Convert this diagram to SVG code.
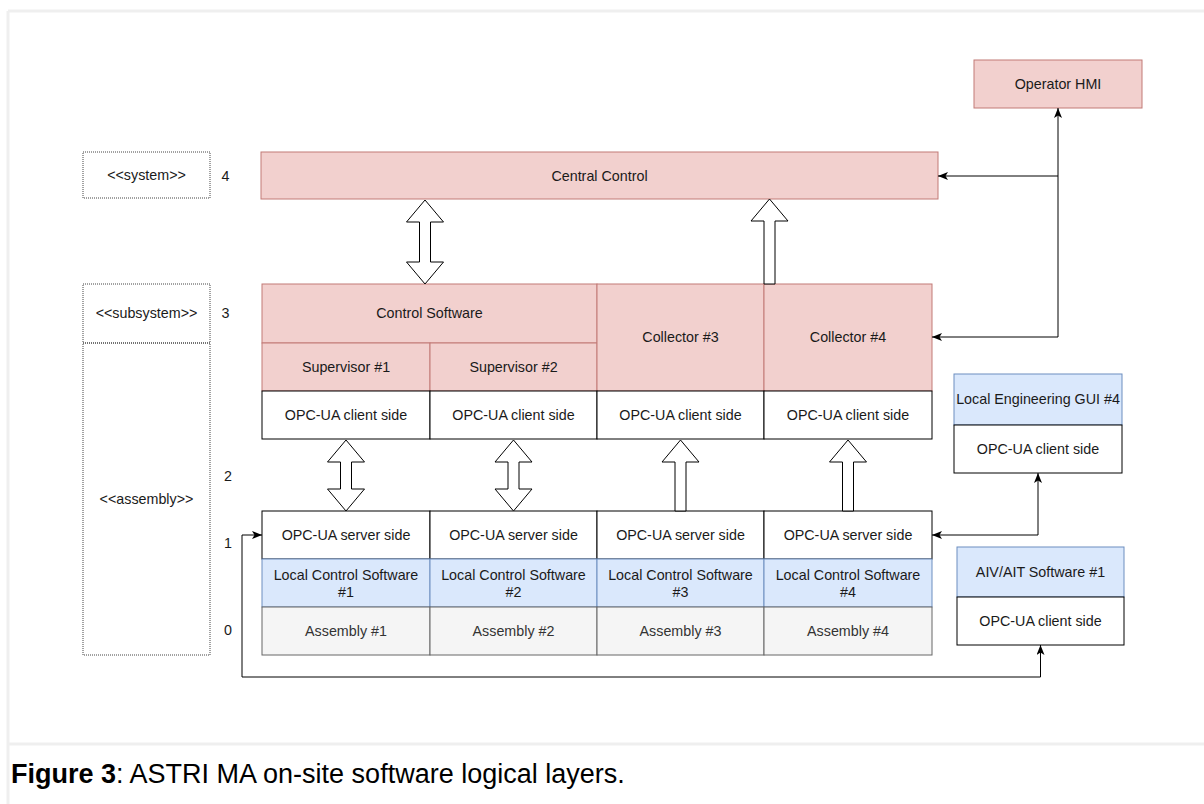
<svg xmlns="http://www.w3.org/2000/svg" width="1204" height="804" viewBox="0 0 1204 804">
<style>
  text { font-family: "Liberation Sans", Arial, sans-serif; font-size: 14.3px; fill: #1a1a1a; text-anchor: middle; dominant-baseline: central; }
  .pink { fill: #f2d0ce; stroke: #c27a76; stroke-width: 1; }
  .blue { fill: #dae8fc; stroke: #6c8ebf; stroke-width: 1; }
  .gray { fill: #f5f5f5; stroke: #666666; stroke-width: 1; }
  .white { fill: #ffffff; stroke: #000000; stroke-width: 1; }
  .dotted { fill: none; stroke: #444444; stroke-width: 1; stroke-dasharray: 1 1; }
  .frame { stroke: #efefef; stroke-width: 3; fill: none; }
  .conn { fill: none; stroke: #000000; stroke-width: 1; }
  .block { fill: #ffffff; stroke: #000000; stroke-width: 1; }
  .gtext { fill: #333333; }
  .num { text-anchor: middle; }
  .caption { font-size: 27px; text-anchor: start; dominant-baseline: alphabetic; fill: #000000; }
</style>
<defs>
  <marker id="arr" viewBox="0 0 10 8" markerWidth="10" markerHeight="8" refX="10" refY="4" orient="auto-start-reverse" markerUnits="userSpaceOnUse">
    <path d="M0,0 L10,4 L0,8 L2.5,4 z" fill="#000000"/>
  </marker>
</defs>
<rect width="1204" height="804" fill="#ffffff"/>
<g id="frame">
  <path class="frame" d="M8,11 L1204,11 M8,11 L8,804 M8,744 L1204,744"/>
</g>

<g id="layer-labels">
  <g id="system-label">
    <rect class="dotted" x="83" y="152" width="127" height="46"/>
    <text x="146.5" y="175">&lt;&lt;system&gt;&gt;</text>
  </g>
  <g id="subsystem-label">
    <rect class="dotted" x="83" y="284" width="127" height="59"/>
    <text x="146.5" y="313">&lt;&lt;subsystem&gt;&gt;</text>
  </g>
  <g id="assembly-label">
    <rect class="dotted" x="83" y="343" width="127" height="312"/>
    <text x="146.5" y="499">&lt;&lt;assembly&gt;&gt;</text>
  </g>
  <text class="num" x="225.5" y="176">4</text>
  <text class="num" x="225.5" y="313">3</text>
  <text class="num" x="228" y="476">2</text>
  <text class="num" x="228" y="543">1</text>
  <text class="num" x="228" y="630">0</text>
</g>

<g id="operator-hmi">
  <rect class="pink" x="974" y="60" width="168" height="48"/>
  <text x="1058" y="84">Operator HMI</text>
</g>
<g id="central-control">
  <rect class="pink" x="261" y="152" width="677" height="47"/>
  <text x="599.5" y="175.5">Central Control</text>
</g>

<g id="control-software">
  <rect class="pink" x="262" y="284" width="335" height="59"/>
  <text x="429.5" y="313">Control Software</text>
</g>
<g id="supervisor-1">
  <rect class="pink" x="262" y="343" width="168" height="48"/>
  <text x="346" y="367">Supervisor #1</text>
</g>
<g id="supervisor-2">
  <rect class="pink" x="430" y="343" width="167" height="48"/>
  <text x="513.5" y="367">Supervisor #2</text>
</g>
<g id="collector-3">
  <rect class="pink" x="597" y="284" width="167" height="107"/>
  <text x="680.5" y="337">Collector #3</text>
</g>
<g id="collector-4">
  <rect class="pink" x="764" y="284" width="168" height="107"/>
  <text x="848" y="337">Collector #4</text>
</g>

<g id="client-1"><rect class="white" x="262" y="391" width="168" height="48"/><text x="346" y="415">OPC-UA client side</text></g>
<g id="client-2"><rect class="white" x="430" y="391" width="167" height="48"/><text x="513.5" y="415">OPC-UA client side</text></g>
<g id="client-3"><rect class="white" x="597" y="391" width="167" height="48"/><text x="680.5" y="415">OPC-UA client side</text></g>
<g id="client-4"><rect class="white" x="764" y="391" width="168" height="48"/><text x="848" y="415">OPC-UA client side</text></g>

<g id="server-1"><rect class="white" x="262" y="511" width="168" height="48"/><text x="346" y="535">OPC-UA server side</text></g>
<g id="server-2"><rect class="white" x="430" y="511" width="167" height="48"/><text x="513.5" y="535">OPC-UA server side</text></g>
<g id="server-3"><rect class="white" x="597" y="511" width="167" height="48"/><text x="680.5" y="535">OPC-UA server side</text></g>
<g id="server-4"><rect class="white" x="764" y="511" width="168" height="48"/><text x="848" y="535">OPC-UA server side</text></g>

<g id="lcs-1"><rect class="blue" x="262" y="559" width="168" height="48"/><text x="346" y="575">Local Control Software</text><text x="346" y="592">#1</text></g>
<g id="lcs-2"><rect class="blue" x="430" y="559" width="167" height="48"/><text x="513.5" y="575">Local Control Software</text><text x="513.5" y="592">#2</text></g>
<g id="lcs-3"><rect class="blue" x="597" y="559" width="167" height="48"/><text x="680.5" y="575">Local Control Software</text><text x="680.5" y="592">#3</text></g>
<g id="lcs-4"><rect class="blue" x="764" y="559" width="168" height="48"/><text x="848" y="575">Local Control Software</text><text x="848" y="592">#4</text></g>

<g id="assembly-1"><rect class="gray" x="262" y="607" width="168" height="48"/><text class="gtext" x="346" y="631">Assembly #1</text></g>
<g id="assembly-2"><rect class="gray" x="430" y="607" width="167" height="48"/><text class="gtext" x="513.5" y="631">Assembly #2</text></g>
<g id="assembly-3"><rect class="gray" x="597" y="607" width="167" height="48"/><text class="gtext" x="680.5" y="631">Assembly #3</text></g>
<g id="assembly-4"><rect class="gray" x="764" y="607" width="168" height="48"/><text class="gtext" x="848" y="631">Assembly #4</text></g>

<g id="local-eng-gui">
  <rect class="blue" x="954" y="374" width="168" height="51"/>
  <text x="1038" y="399">Local Engineering GUI #4</text>
  <rect class="white" x="954" y="425" width="168" height="48"/>
  <text x="1038" y="449">OPC-UA client side</text>
</g>
<g id="aiv-ait">
  <rect class="blue" x="957" y="547" width="167" height="50"/>
  <text x="1040.5" y="572">AIV/AIT Software #1</text>
  <rect class="white" x="957" y="597" width="167" height="48"/>
  <text x="1040.5" y="621">OPC-UA client side</text>
</g>

<g id="connectors">
  <path class="block" d="M425,200 L443.5,222 L430.5,222 L430.5,262 L443.5,262 L425,284 L406.5,262 L419.5,262 L419.5,222 L406.5,222 Z"/>
  <path class="block" d="M769.5,199 L788,221 L775,221 L775,284 L764,284 L764,221 L751,221 Z"/>
  <path class="block" d="M346,440 L364.5,462 L351.5,462 L351.5,489 L364.5,489 L346,511 L327.5,489 L340.5,489 L340.5,462 L327.5,462 Z"/>
  <path class="block" d="M513.5,440 L532,462 L519,462 L519,489 L532,489 L513.5,511 L495,489 L508,489 L508,462 L495,462 Z"/>
  <path class="block" d="M680.5,440 L699,462 L686,462 L686,511 L675,511 L675,462 L662,462 Z"/>
  <path class="block" d="M848,440 L866.5,462 L853.5,462 L853.5,511 L842.5,511 L842.5,462 L829.5,462 Z"/>
  <path class="conn" d="M1058,337 L1058,108" marker-end="url(#arr)"/>
  <path class="conn" d="M1058,176 L938,176" marker-end="url(#arr)"/>
  <path class="conn" d="M1058,337 L932,337" marker-end="url(#arr)"/>
  <path class="conn" d="M932,535 L1038,535 L1038,473" marker-start="url(#arr)" marker-end="url(#arr)"/>
  <path class="conn" d="M262,535 L242,535 L242,677 L1040.5,677 L1040.5,645" marker-start="url(#arr)" marker-end="url(#arr)"/>
</g>

<text class="caption" x="11" y="783"><tspan font-weight="bold">Figure 3</tspan>: ASTRI MA on-site software logical layers.</text>
</svg>
